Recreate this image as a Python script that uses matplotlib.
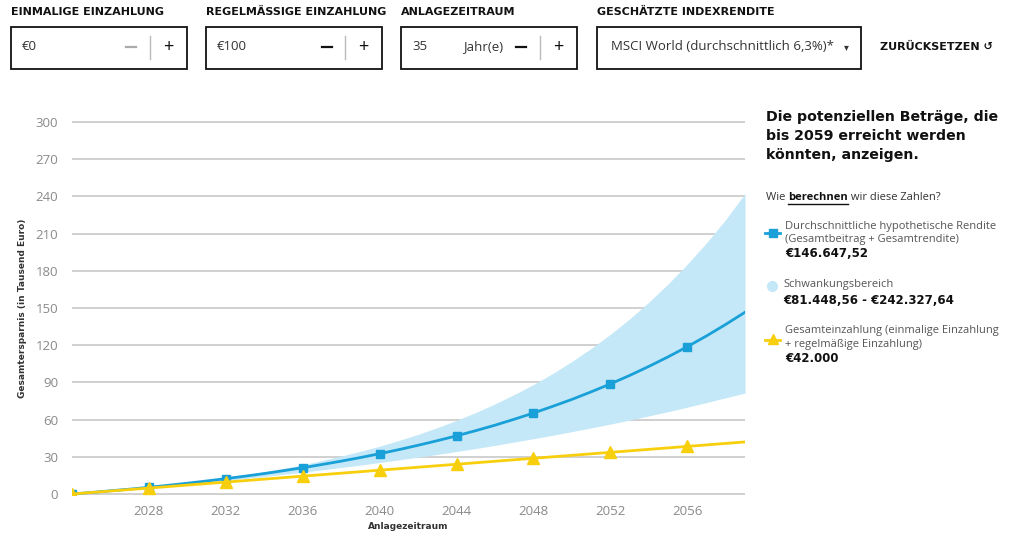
import matplotlib.pyplot as plt
from matplotlib.patches import Rectangle
from matplotlib.lines import Line2D

plt.rcParams['font.family'] = ['Open Sans', 'DejaVu Sans']

# Jahre 2024..2059
jahre = list(range(2024, 2060))
# Durchschnittliche hypothetische Rendite (Tsd. Euro)
rendite = [0, 1.2, 2.6, 3.9, 5.4, 7.0, 8.7, 10.5, 12.4, 14.4, 16.5, 18.8, 21.2, 23.8,
           26.5, 29.4, 32.5, 35.8, 39.3, 43.0, 46.9, 51.1, 55.5, 60.3, 65.3, 70.7,
           76.3, 82.4, 88.8, 95.6, 102.9, 110.6, 118.8, 127.5, 136.8, 146.6]
# Schwankungsbereich unten / oben
band_unten = [0, 1.2, 2.4, 3.7, 5.1, 6.5, 7.9, 9.4, 10.9, 12.5, 14.1, 15.9, 17.6, 19.5,
              21.4, 23.3, 25.4, 27.5, 29.7, 31.9, 34.3, 36.7, 39.2, 41.9, 44.6, 47.4,
              50.3, 53.3, 56.4, 59.6, 63.0, 66.4, 70.0, 73.8, 77.6, 81.4]
band_oben = [0, 1.2, 2.5, 3.9, 5.5, 7.1, 9.0, 10.9, 13.1, 15.4, 18.0, 20.7, 23.7, 27.0,
             30.6, 34.4, 38.6, 43.2, 48.1, 53.5, 59.4, 65.7, 72.7, 80.2, 88.3, 97.2,
             106.9, 117.4, 128.8, 141.2, 154.7, 169.4, 185.3, 202.6, 221.4, 242.3]
# Gesamteinzahlung
einzahlung = [0, 1.2, 2.4, 3.6, 4.8, 6.0, 7.2, 8.4, 9.6, 10.8, 12.0, 13.2, 14.4, 15.6,
              16.8, 18.0, 19.2, 20.4, 21.6, 22.8, 24.0, 25.2, 26.4, 27.6, 28.8, 30.0,
              31.2, 32.4, 33.6, 34.8, 36.0, 37.2, 38.4, 39.6, 40.8, 42.0]

x_ticks = [2028, 2032, 2036, 2040, 2044, 2048, 2052, 2056]
y_ticks = [0, 30, 60, 90, 120, 150, 180, 210, 240, 270, 300]

blau = '#1aa0d8'
hellblau = '#c4e8f7'
gelb = '#f8cf0d'
grau = '#555555'

W, H = 1024, 539
def fx(x):
    return x / W
def fy(y):
    return 1 - y / H

fig = plt.figure(figsize=(10.24, 5.39), dpi=100)
ax = fig.add_axes([fx(72), fy(495), (745 - 72) / W, (495 - 121) / H])

ax.fill_between(jahre, band_unten, band_oben, color=hellblau, lw=0, zorder=1)
ax.plot(jahre, rendite, color=blau, lw=2, marker='s', ms=6, markevery=4, zorder=3)
ax.plot(jahre, einzahlung, color=gelb, lw=2, marker='^', ms=8, markevery=4, zorder=4)

ax.set_xlim(2024, 2059)
ax.set_ylim(-0.8, 300.8)
ax.set_xticks(x_ticks)
ax.set_yticks(y_ticks)
ax.yaxis.grid(True, color='#c8c8c8', lw=1.2)
ax.set_axisbelow(True)
for s in ax.spines.values():
    s.set_visible(False)
ax.tick_params(length=0, labelsize=9.5, labelcolor='#8a8a8a')
ax.tick_params(axis='y', pad=10)
ax.tick_params(axis='x', pad=7)
ax.set_ylabel('Gesamtersparnis (in Tausend Euro)', fontsize=6.5, fontweight='bold',
              family='DejaVu Sans', color='#333333', labelpad=6)
ax.set_xlabel('Anlagezeitraum', fontsize=6.5, fontweight='bold', family='DejaVu Sans',
              color='#333333', labelpad=3)

# Eingabefelder oben
felder = [
    (11, 187, 'EINMALIGE EINZAHLUNG', '€0', None, 131, 150, 168, '#aaaaaa'),
    (206, 382, 'REGELMÄSSIGE EINZAHLUNG', '€100', None, 327, 345, 363, '#111111'),
    (401, 577, 'ANLAGEZEITRAUM', '35', 'Jahr(e)', 521, 540, 558, '#111111'),
]
for x0, x1, titel, wert, einheit, xm, xd, xp, cm in felder:
    fig.text(fx(x0), fy(12), titel, fontsize=8, fontweight='bold', family='DejaVu Sans',
             va='center', ha='left', color='#111111')
    fig.patches.append(Rectangle((fx(x0), fy(69)), (x1 - x0) / W, 42 / H,
                                 transform=fig.transFigure, fill=False,
                                 edgecolor='#111111', lw=1.3))
    fig.text(fx(x0 + 11), fy(47), wert, fontsize=9.5, va='center', ha='left', color='#333333')
    if einheit:
        fig.text(fx(463), fy(47), einheit, fontsize=9.5, va='center', ha='left', color='#333333')
    fig.lines.append(Line2D([fx(xm - 5), fx(xm + 5)], [fy(47), fy(47)],
                            transform=fig.transFigure, color=cm, lw=1.6))
    fig.lines.append(Line2D([fx(xd), fx(xd)], [fy(36), fy(59)],
                            transform=fig.transFigure, color='#bbbbbb', lw=1))
    fig.text(fx(xp), fy(47), '+', fontsize=13, va='center', ha='center', color='#111111')

fig.text(fx(597), fy(12), 'GESCHÄTZTE INDEXRENDITE', fontsize=8, fontweight='bold',
         family='DejaVu Sans', va='center', ha='left', color='#111111')
fig.patches.append(Rectangle((fx(597), fy(69)), (861 - 597) / W, 42 / H,
                             transform=fig.transFigure, fill=False,
                             edgecolor='#111111', lw=1.3))
fig.text(fx(611), fy(47), 'MSCI World (durchschnittlich 6,3%)*', fontsize=9.5,
         va='center', ha='left', color='#333333')
fig.text(fx(846), fy(47), '▾', fontsize=7, va='center', ha='center', color='#333333',
         family='DejaVu Sans')
fig.text(fx(880), fy(47), 'ZURÜCKSETZEN ↺', fontsize=8, fontweight='bold',
         family='DejaVu Sans', va='center', ha='left', color='#111111')

# Rechte Seite
fig.text(fx(766), fy(110), 'Die potenziellen Beträge, die\nbis 2059 erreicht werden\nkönnten, anzeigen.',
         fontsize=10.2, fontweight='bold', family='DejaVu Sans', va='top', ha='left',
         color='#111111', linespacing=1.45)

# "Wie berechnen wir diese Zahlen?" stueckweise setzen
fig.canvas.draw()
r = fig.canvas.get_renderer()
xpos = 766
for teil, gew, col in [('Wie ', 'normal', '#333333'), ('berechnen', 'bold', '#111111'),
                        (' wir diese Zahlen?', 'normal', '#333333')]:
    tt = fig.text(fx(xpos), fy(197), teil, fontsize=8, fontweight=gew, va='center',
                  ha='left', color=col)
    bb = tt.get_window_extent(renderer=r)
    if teil == 'berechnen':
        fig.lines.append(Line2D([fx(xpos), fx(xpos + bb.width)], [fy(204), fy(204)],
                                transform=fig.transFigure, color='#111111', lw=1))
    xpos += bb.width

fig.lines.append(Line2D([fx(765), fx(780)], [fy(233), fy(233)], transform=fig.transFigure,
                        color=blau, lw=2))
fig.lines.append(Line2D([fx(772.5)], [fy(233)], transform=fig.transFigure,
                        color=blau, marker='s', ms=5.5, lw=0))
fig.text(fx(785), fy(226), 'Durchschnittliche hypothetische Rendite', fontsize=8,
         va='center', ha='left', color=grau)
fig.text(fx(785), fy(239), '(Gesamtbeitrag + Gesamtrendite)', fontsize=8,
         va='center', ha='left', color=grau)
fig.text(fx(785), fy(253), '€146.647,52', fontsize=8.5, fontweight='bold',
         family='DejaVu Sans', va='center', ha='left', color='#111111')

fig.lines.append(Line2D([fx(772)], [fy(286)], transform=fig.transFigure,
                        color=hellblau, marker='o', ms=7, lw=0))
fig.text(fx(783), fy(285), 'Schwankungsbereich', fontsize=8, va='center', ha='left', color=grau)
fig.text(fx(783), fy(300), '€81.448,56 - €242.327,64', fontsize=8.5, fontweight='bold',
         family='DejaVu Sans', va='center', ha='left', color='#111111')

fig.lines.append(Line2D([fx(765), fx(780)], [fy(340), fy(340)], transform=fig.transFigure,
                        color=gelb, lw=2))
fig.lines.append(Line2D([fx(772.5)], [fy(339)], transform=fig.transFigure,
                        color=gelb, marker='^', ms=7, lw=0))
fig.text(fx(785), fy(331), 'Gesamteinzahlung (einmalige Einzahlung', fontsize=8,
         va='center', ha='left', color=grau)
fig.text(fx(785), fy(344), '+ regelmäßige Einzahlung)', fontsize=8,
         va='center', ha='left', color=grau)
fig.text(fx(785), fy(358), '€42.000', fontsize=8.5, fontweight='bold',
         family='DejaVu Sans', va='center', ha='left', color='#111111')

fig.savefig('out.png', dpi=100)
